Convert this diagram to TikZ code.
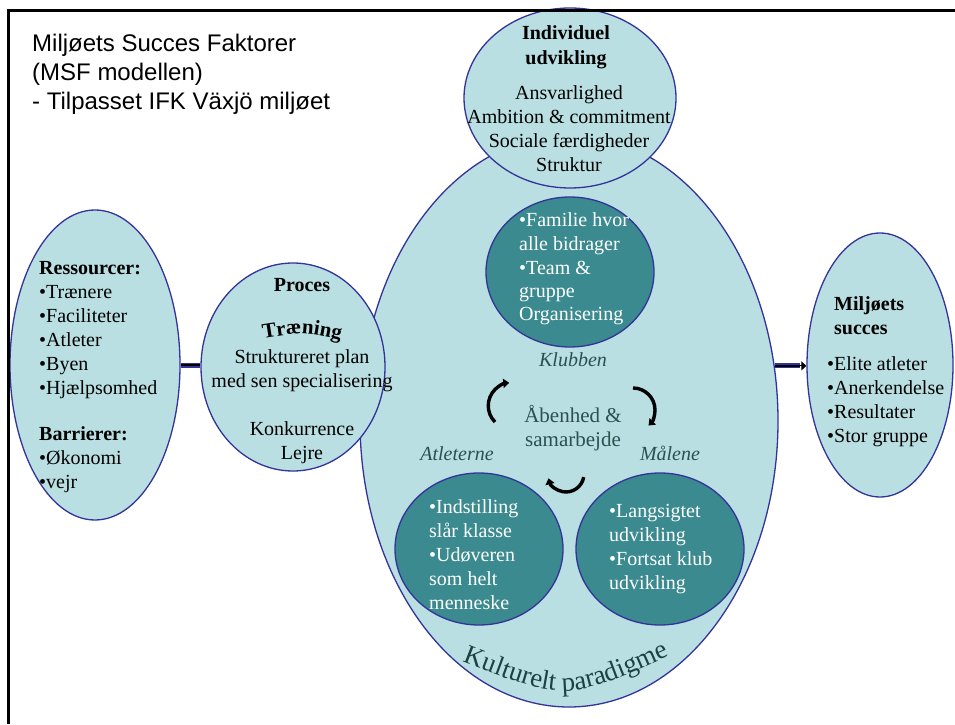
\documentclass[tikz,border=0pt]{standalone}
\usepackage{fontspec}
\setmainfont{Liberation Serif}
\newfontfamily\arialfont{Liberation Sans}
\usetikzlibrary{shapes.geometric,arrows.meta,decorations.text}
\definecolor{lightfill}{HTML}{B9DFE2}
\definecolor{darkfill}{HTML}{3B8A8F}
\definecolor{navyb}{HTML}{333399}
\definecolor{slatetxt}{HTML}{2D4F50}
\definecolor{kultcol}{HTML}{1A4243}
\begin{document}
\begin{tikzpicture}[x=1pt,y=1pt,
  blob/.style={ellipse, draw=navyb, line width=1.3pt, inner sep=0pt},
  lightblob/.style={blob, fill=lightfill},
  darkblob/.style={blob, fill=darkfill},
  txt/.style={inner sep=0pt, font=\fontsize{20}{24}\selectfont},
  ltxt/.style={txt, align=left, anchor=base west},
  ctxt/.style={txt, align=center, anchor=base},
  wtxt/.style={ltxt, text=white},
  itxt/.style={ctxt, text=slatetxt, font=\fontsize{20}{24}\selectfont\itshape},
  conn/.style={line width=5pt, draw=navyb, postaction={draw=black, line width=2.4pt}},
  cyc/.style={line width=3.4pt, draw=black, -{Triangle[length=6pt,width=9pt]}}
]
\useasboundingbox (0,0) rectangle (955,724);
\fill[white] (0,0) rectangle (955,724);

% big ellipse and surrounding shapes
\node[lightblob, minimum width=418pt, minimum height=572pt] (big) at (569,303) {};
\node[lightblob, minimum width=212pt, minimum height=180pt] (indiv) at (570,626) {};
\node[lightblob, minimum width=184pt, minimum height=208pt] (proc) at (293,357) {};
\node[lightblob, minimum width=170pt, minimum height=310pt] (res) at (95,359) {};
\node[lightblob, minimum width=146pt, minimum height=264pt] (succ) at (880,359) {};
\node[darkblob, minimum width=168pt, minimum height=150pt] (klub) at (570,452) {};
\node[darkblob, minimum width=168pt, minimum height=152pt] (atl) at (479,175) {};
\node[darkblob, minimum width=168pt, minimum height=152pt] (mal) at (660,175) {};

% connectors
\draw[conn] (res.east) -- (res.east -| proc.west);
\draw[conn] (big.15) -- ([xshift=-6pt]big.15 -| succ.west);
\draw[-{Triangle[length=5pt,width=9pt]}, black, line width=1pt] ([xshift=-8pt]big.15 -| succ.west) -- (big.15 -| succ.west);

% cycle arrows
\coordinate (arcL) at (495,302);
\coordinate (arcR) at (633,336);
\coordinate (arcB) at (583.7,246.9);
\draw[cyc] (arcL) arc[start angle=225, end angle=95, radius=23];
\draw[cyc] (arcR) arc[start angle=90, end angle=-45, radius=22];
\draw[cyc] (arcB) arc[start angle=-10, end angle=-166, radius=18];

% title (anchor = baseline of last line)
\node[inner sep=0pt, anchor=base west, align=left, font=\arialfont\fontsize{24}{29}\selectfont] (title) at (32,614)
  {Miljøets Succes Faktorer\\(MSF modellen)\\- Tilpasset IFK Växjö miljøet};

% resources
\node[ltxt] (restxt) at (39,236)
  {\textbf{Ressourcer:}\\•Trænere\\•Faciliteter\\•Atleter\\•Byen\\•Hjælpsomhed\\[22pt]\textbf{Barrierer:}\\•Økonomi\\•vejr};

% proces
\node[ctxt, font=\fontsize{20}{24}\selectfont\bfseries] (proctitle) at (302,432) {Proces};
\coordinate (trA) at (259,385);
\coordinate (trB) at (345,383);
\path[decorate, decoration={text along path, text align=center,
  text={|\bfseries\fontsize{21}{21}\selectfont|Træning}}]
  (trA) .. controls (302,392) .. (trB);
\node[ctxt] (proctxt) at (302,265)
  {Struktureret plan\\med sen specialisering\\[24pt]Konkurrence\\Lejre};

% individuel udvikling
\node[ctxt, font=\fontsize{20}{25}\selectfont\bfseries] (indtitle) at (566,659) {Individuel\\udvikling};
\node[ctxt] (indtxt) at (569,552)
  {Ansvarlighed\\Ambition \& commitment\\Sociale færdigheder\\Struktur};

% klubben
\node[wtxt, font=\fontsize{20}{23.5}\selectfont] (klubtxt) at (519,403)
  {•Familie hvor\\alle bidrager\\•Team \&\\gruppe\\Organisering};
\node[itxt] (klublbl) at (573,358) {Klubben};
\node[ctxt, text=slatetxt, font=\fontsize{21}{24}\selectfont] (aaben) at (573,278) {Åbenhed \&\\samarbejde};
\node[itxt] (atllbl) at (457,264) {Atleterne};
\node[itxt] (mallbl) at (670,264) {Målene};

% atleterne / målene texts
\node[wtxt] (atltxt) at (429,115)
  {•Indstilling\\slår klasse\\•Udøveren\\som helt\\menneske};
\node[wtxt] (maltxt) at (609,135)
  {•Langsigtet\\udvikling\\•Fortsat klub\\udvikling};

% miljøets succes
\node[ltxt, font=\fontsize{20}{24}\selectfont\bfseries] (succtitle) at (834,390) {Miljøets\\succes};
\node[ltxt] (succtxt) at (827,282)
  {•Elite atleter\\•Anerkendelse\\•Resultater\\•Stor gruppe};

% kulturelt paradigme
\coordinate (kA) at (458,64);
\coordinate (kB) at (674,70);
\path[decorate, decoration={text along path, text align=center, text color=kultcol,
  text={|\fontsize{27}{27}\selectfont|Kulturelt paradigme}}]
  (kA) .. controls (566,22) .. (kB);

% frame
\draw[line width=3pt, black] (8,0) -- (8,713.3) -- (955,713.3);
\end{tikzpicture}
\end{document}
